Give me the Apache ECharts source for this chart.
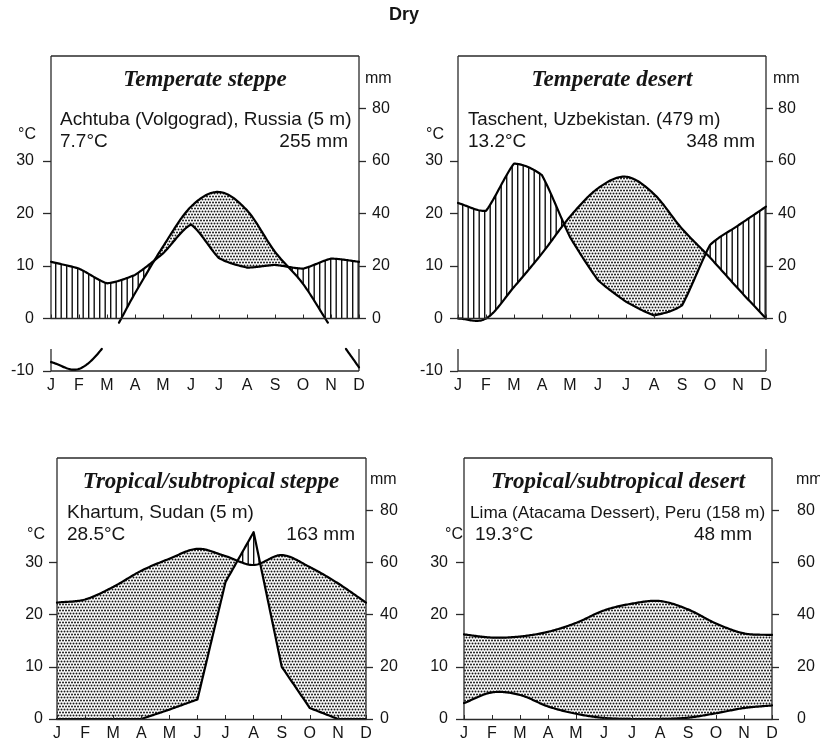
<!DOCTYPE html>
<html>
<head>
<meta charset="utf-8">
<script src="https://cdn.jsdelivr.net/npm/echarts@6/dist/echarts.min.js"></script>
<style>html,body{margin:0;padding:0;background:#fff}#chart{width:820px;height:748px}</style>
</head>
<body>
<div id="chart"></div>
<script>
// ---------------- DATA ----------------
const MONTHS = ['J','F','M','A','M','J','J','A','S','O','N','D'];
const TEMP_TICKS_TOP = [-10, 0, 10, 20, 30];
const TEMP_TICKS_BOTTOM = [0, 10, 20, 30];
const PREC_TICKS = [0, 20, 40, 60, 80];

// Temperate steppe – Achtuba (°C, mm)
const achtubaTemp = [-8.3, -9.6, -4.5, 4.8, 13.7, 21.3, 24.1, 20.6, 12.7, 6.6, -1.7, -9.3];
const achtubaPrec = [21.6, 19.0, 13.4, 16.6, 24.8, 35.8, 23.0, 19.4, 20.4, 19.0, 22.8, 21.6];
// Temperate desert – Taschent
const taschentTemp = [0, 0, 6.0, 12.4, 19.4, 24.8, 27.0, 23.7, 17.1, 11.6, 5.7, 0];
const taschentPrec = [44, 41, 59, 54.6, 31, 14.6, 6.4, 1.2, 5, 28, 35.4, 42.6];
// Tropical/subtropical steppe – Khartum
const khartumTemp = [22.3, 22.9, 25.3, 28.4, 30.7, 32.6, 31.2, 29.5, 31.4, 29.1, 26.0, 22.3];
const khartumPrec = [0, 0, 0, 0, 3.6, 7.5, 52.5, 71.6, 20, 4.2, 0, 0];
// Tropical/subtropical desert – Lima
const limaTemp = [16.2, 15.6, 15.8, 16.7, 18.4, 20.8, 22.1, 22.6, 21.0, 18.3, 16.4, 16.1];
const limaPrec = [6.1, 10.2, 9.2, 4.8, 2.0, 0.4, 0, 0, 0.5, 2.2, 4.2, 5.2];

const TITLES = ['Temperate steppe', 'Temperate desert', 'Tropical/subtropical steppe', 'Tropical/subtropical desert'];
const STATIONS = ['Achtuba (Volgograd), Russia (5 m)', 'Taschent, Uzbekistan. (479 m)', 'Khartum, Sudan (5 m)', 'Lima (Atacama Dessert), Peru (158 m)'];
const MEAN_TEMP = ['7.7°C', '13.2°C', '28.5°C', '19.3°C'];
const ANNUAL_PREC = ['255 mm', '348 mm', '163 mm', '48 mm'];

// ---------------- LAYOUT / STYLE ----------------
const MM_PER_DEG = 2;            // Walter–Lieth: 10 °C = 20 mm
const FRAME_TOP = 50;            // °C at top of frame
const LABEL_BAND = [-5.8, -0.8]; // month-label band (°C) left blank
const TEMP_TENSION = 1;
const STEPS = 24;
const SANS = '"Liberation Sans", Arial, sans-serif';
const SERIF = '"Liberation Serif", "Times New Roman", serif';
const INK = '#151515';

const PANELS = [
  {temp: achtubaTemp, prec: achtubaPrec, precTension: 0.45, left: 51, top: 56, width: 308, height: 315, yMin: -10, lm: 17, rm: 13, stationSize: 19,
   title: [205, 80], station: [60, 120], tmean: [60, 142], pmean: [348, 142], degC: [27, 135], mm: [365, 79]},
  {temp: taschentTemp, prec: taschentPrec, precTension: 0.35, left: 458, top: 56, width: 308, height: 315, yMin: -10, lm: 15, rm: 12, stationSize: 18.7,
   title: [612, 80], station: [468, 120], tmean: [468, 142], pmean: [755, 142], degC: [435, 135], mm: [773, 79]},
  {temp: khartumTemp, prec: khartumPrec, precTension: 0, left: 57, top: 458, width: 309, height: 261, yMin: 0, lm: 14, rm: 14, stationSize: 19,
   title: [211, 482], station: [67, 513], tmean: [67, 535], pmean: [355, 535], degC: [36, 535], mm: [370, 480]},
  {temp: limaTemp, prec: limaPrec, precTension: 1, left: 464, top: 458, width: 308, height: 261, yMin: 0, lm: 16, rm: 25, stationSize: 17.2,
   title: [618, 482], station: [470, 513], tmean: [475, 535], pmean: [752, 535], degC: [454, 535], mm: [796, 480]}
];

// ---------------- PATTERNS ----------------
function makeHatch() {
  const c = document.createElement('canvas'); c.width = 11; c.height = 4;
  const g = c.getContext('2d');
  g.fillStyle = '#fff'; g.fillRect(0, 0, 11, 4);
  g.fillStyle = '#111'; g.fillRect(0, 0, 1.4, 4); g.fillRect(5.5, 0, 1.4, 4);
  return c;
}
function makeDots() {
  const c = document.createElement('canvas'); c.width = 6; c.height = 6;
  const g = c.getContext('2d');
  g.fillStyle = '#fff'; g.fillRect(0, 0, 6, 6);
  g.fillStyle = '#1a1a1a';
  [[1.5, 1.5], [4.5, 1.5], [0, 4.5], [3, 4.5], [6, 4.5]].forEach(p => {
    g.beginPath(); g.arc(p[0], p[1], 1.0, 0, Math.PI * 2); g.fill();
  });
  return c;
}
const HATCH = {image: makeHatch(), repeat: 'repeat'};
const DOTS = {image: makeDots(), repeat: 'repeat'};

// ---------------- CURVES ----------------
// blend between straight segments (tension 0) and a Catmull-Rom curve (tension 1)
function spline(vals, tension) {
  const n = vals.length, pts = [];
  const tan = i => {
    if (i === 0) return vals[1] - vals[0];
    if (i === n - 1) return vals[n - 1] - vals[n - 2];
    return (vals[i + 1] - vals[i - 1]) / 2;
  };
  for (let i = 0; i < n - 1; i++) {
    const p0 = vals[i], p1 = vals[i + 1], m0 = tan(i), m1 = tan(i + 1);
    for (let s = 0; s < STEPS; s++) {
      const t = s / STEPS, t2 = t * t, t3 = t2 * t;
      const cr = (2 * t3 - 3 * t2 + 1) * p0 + (t3 - 2 * t2 + t) * m0 + (-2 * t3 + 3 * t2) * p1 + (t3 - t2) * m1;
      const lin = p0 + (p1 - p0) * t;
      pts.push([i + t, lin + tension * (cr - lin)]);
    }
  }
  pts.push([n - 1, vals[n - 1]]);
  return pts;
}
function precCurve(panel) {
  return spline(panel.prec, panel.precTension).map(p => [p[0], Math.max(0, p[1])]);
}

function splitOutsideBand(pts, lo, hi) {
  const inBand = v => v > lo && v < hi;
  const out = []; let cur = [];
  for (let k = 0; k < pts.length; k++) {
    const p = pts[k];
    if (k > 0) {
      const q = pts[k - 1];
      const a = inBand(q[1]), b = inBand(p[1]);
      if (a !== b) {
        const ref = a ? p[1] : q[1];
        const bound = ref >= hi ? hi : lo;
        const f = (bound - q[1]) / (p[1] - q[1]);
        const c = [q[0] + (p[0] - q[0]) * f, bound];
        if (!a) { cur.push(c); if (cur.length > 1) out.push(cur); cur = []; }
        else { cur = [c]; }
      }
    }
    if (!inBand(p[1])) cur.push(p);
  }
  if (cur.length > 1) out.push(cur);
  return out;
}

// ---------------- RENDERERS ----------------
function fillRenderer(panel) {
  return function (params, api) {
    if (params.dataIndex !== 0) return null;
    const T = spline(panel.temp, TEMP_TENSION);
    const P = precCurve(panel).map(p => [p[0], p[1] / MM_PER_DEG]);
    const children = [];
    let run = null;
    const flush = () => {
      if (run && run.upper.length > 1) {
        const pts = run.upper.concat(run.lower.slice().reverse()).map(p => api.coord(p));
        children.push({type: 'polygon', shape: {points: pts}, style: {fill: run.wet ? HATCH : DOTS, stroke: null}});
      }
      run = null;
    };
    let prevD = null;
    for (let k = 0; k < T.length; k++) {
      const x = T[k][0], t = T[k][1], p = P[k][1];
      const d = t - p;
      const wet = !(d > 0);
      if (k > 0 && (prevD > 0) !== (d > 0)) {
        const f = prevD / (prevD - d);
        const xc = T[k - 1][0] + (x - T[k - 1][0]) * f;
        const vc = Math.max(0, P[k - 1][1] + (p - P[k - 1][1]) * f);
        run.upper.push([xc, vc]); run.lower.push([xc, vc]);
        flush();
        run = {wet: wet, upper: [[xc, vc]], lower: [[xc, vc]]};
      }
      if (!run) run = {wet: wet, upper: [], lower: []};
      if (wet) { run.upper.push([x, p]); run.lower.push([x, Math.max(t, 0)]); }
      else { run.upper.push([x, t]); run.lower.push([x, p]); }
      prevD = d;
    }
    flush();
    return {type: 'group', children: children};
  };
}

function lineRenderer(getPts, band) {
  return function (params, api) {
    if (params.dataIndex !== 0) return null;
    const pts = getPts();
    const segs = band ? splitOutsideBand(pts, band[0], band[1]) : [pts];
    return {
      type: 'group',
      children: segs.map(s => ({
        type: 'polyline',
        shape: {points: s.map(p => api.coord(p))},
        style: {stroke: '#000', lineWidth: 2.2, fill: null, lineJoin: 'round', lineCap: 'round'}
      }))
    };
  };
}

function frameRenderer(panel) {
  return function (params, api) {
    if (params.dataIndex !== 0) return null;
    const segs = [
      [[0, FRAME_TOP], [11, FRAME_TOP]],
      [[0, FRAME_TOP], [0, 0]],
      [[11, FRAME_TOP], [11, 0]]
    ];
    if (panel.yMin < 0) {
      segs.push([[0, LABEL_BAND[0]], [0, panel.yMin]]);
      segs.push([[11, LABEL_BAND[0]], [11, panel.yMin]]);
      segs.push([[0, panel.yMin], [11, panel.yMin]]);
    }
    return {
      type: 'group',
      children: segs.map(s => ({
        type: 'polyline',
        shape: {points: s.map(p => api.coord(p))},
        style: {stroke: '#2a2a2a', lineWidth: 1.3, fill: null}
      }))
    };
  };
}

// ---------------- OPTION ----------------
const grid = [], xAxis = [], yAxis = [], series = [], graphic = [];
const axisText = {fontFamily: SANS, fontSize: 16, color: INK};

PANELS.forEach((pn, i) => {
  grid.push({left: pn.left, top: pn.top, width: pn.width, height: pn.height, containLabel: false, outerBoundsMode: 'none'});
  xAxis.push({
    type: 'value', gridIndex: i, min: 0, max: 11, interval: 1, z: 5,
    axisLine: {show: true, onZero: true, lineStyle: {color: '#2a2a2a', width: 1.3}},
    axisTick: {show: true, inside: true, length: 4, lineStyle: {color: '#2a2a2a', width: 1}},
    axisLabel: Object.assign({formatter: v => MONTHS[v], margin: 7}, axisText),
    splitLine: {show: false}
  });
  const tTicks = pn.yMin < 0 ? TEMP_TICKS_TOP : TEMP_TICKS_BOTTOM;
  yAxis.push({
    type: 'value', gridIndex: i, position: 'left', min: pn.yMin, max: FRAME_TOP, interval: 10, z: 5,
    axisLine: {show: false, onZero: false},
    axisTick: {show: true, length: 8, customValues: tTicks, lineStyle: {color: '#2a2a2a', width: 1.3}},
    axisLabel: Object.assign({customValues: tTicks, margin: pn.lm, verticalAlign: 'middle'}, axisText),
    splitLine: {show: false}
  });
  yAxis.push({
    type: 'value', gridIndex: i, position: 'right', min: pn.yMin * MM_PER_DEG, max: FRAME_TOP * MM_PER_DEG, interval: 20, z: 5,
    axisLine: {show: false, onZero: false},
    axisTick: {show: true, length: 7, customValues: PREC_TICKS, lineStyle: {color: '#2a2a2a', width: 1.3}},
    axisLabel: Object.assign({customValues: PREC_TICKS, margin: pn.rm, verticalAlign: 'middle'}, axisText),
    splitLine: {show: false}
  });
  const tempData = pn.temp.map((v, k) => [k, v]);
  const precData = pn.prec.map((v, k) => [k, v]);
  series.push({
    type: 'custom', name: 'fill' + i, xAxisIndex: i, yAxisIndex: 2 * i, z: 2, clip: false, silent: true,
    data: tempData, renderItem: fillRenderer(pn)
  });
  series.push({
    type: 'custom', name: 'frame' + i, xAxisIndex: i, yAxisIndex: 2 * i, z: 3, clip: false, silent: true,
    data: [[0, FRAME_TOP]], renderItem: frameRenderer(pn)
  });
  series.push({
    type: 'custom', name: 'Temperature', xAxisIndex: i, yAxisIndex: 2 * i, z: 4, clip: false,
    data: tempData, renderItem: lineRenderer(() => spline(pn.temp, TEMP_TENSION), pn.yMin < 0 ? LABEL_BAND : null)
  });
  series.push({
    type: 'custom', name: 'Precipitation', xAxisIndex: i, yAxisIndex: 2 * i + 1, z: 4, clip: false,
    data: precData, renderItem: lineRenderer(() => precCurve(pn), null)
  });

  const txt = (pos, text, font, align) => ({
    type: 'text', x: pos[0], y: pos[1], z: 10, silent: true,
    style: {text: text, font: font, fill: INK, align: align, textAlign: align, verticalAlign: 'middle', textVerticalAlign: 'middle'}
  });
  graphic.push(txt(pn.title, TITLES[i], 'italic bold 23px ' + SERIF, 'center'));
  graphic.push(txt(pn.station, STATIONS[i], pn.stationSize + 'px ' + SANS, 'left'));
  graphic.push(txt(pn.tmean, MEAN_TEMP[i], '19px ' + SANS, 'left'));
  graphic.push(txt(pn.pmean, ANNUAL_PREC[i], '19px ' + SANS, 'right'));
  graphic.push(txt(pn.degC, '°C', '16px ' + SANS, 'center'));
  graphic.push(txt(pn.mm, 'mm', '16px ' + SANS, 'left'));
});

graphic.push({
  type: 'text', x: 404, y: 15, z: 10,
  style: {text: 'Dry', font: 'bold 18px ' + SANS, fill: INK, align: 'center', textAlign: 'center', verticalAlign: 'middle', textVerticalAlign: 'middle'}
});

const chart = echarts.init(document.getElementById('chart'), null, {renderer: 'canvas'});
chart.setOption({
  animation: false,
  backgroundColor: '#fff',
  grid: grid, xAxis: xAxis, yAxis: yAxis, series: series, graphic: graphic
});
</script>
</body>
</html>
